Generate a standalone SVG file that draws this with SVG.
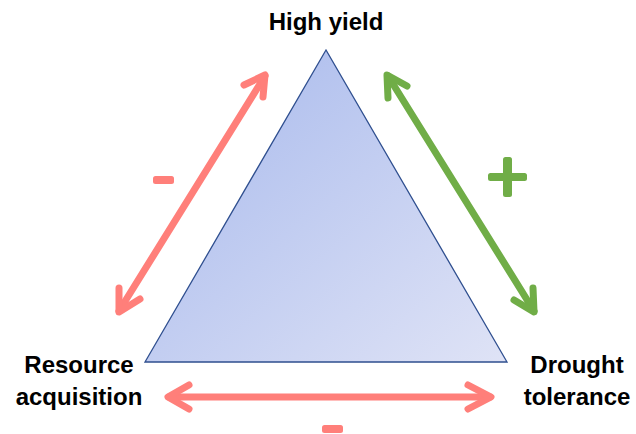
<svg xmlns="http://www.w3.org/2000/svg" width="636" height="434" viewBox="0 0 636 434">
<defs>
<linearGradient id="tri" x1="0" y1="0" x2="1" y2="1">
<stop offset="0" stop-color="#a6b8ec"/>
<stop offset="1" stop-color="#dfe3f6"/>
</linearGradient>
<style>
.lbl{font-family:"Liberation Sans",Arial,sans-serif;font-weight:bold;font-size:24px;fill:#000;text-anchor:middle}
.neg{stroke:#ff7f7a;stroke-width:7;fill:none;stroke-linecap:round;stroke-linejoin:round}
.pos{stroke:#70ad47;stroke-width:7;fill:none;stroke-linecap:round;stroke-linejoin:round}
</style>
</defs>
<g id="triangle">
<polygon points="326,50 145,362 507,362" fill="url(#tri)" stroke="#2f4f8f" stroke-width="1.3"/>
</g>
<g id="high-yield"><text class="lbl" x="326" y="30">High yield</text></g>
<g id="resource-acquisition"><text class="lbl" x="79" y="373">Resource</text><text class="lbl" x="79" y="405">acquisition</text></g>
<g id="drought-tolerance"><text class="lbl" x="577" y="373">Drought</text><text class="lbl" x="577" y="405">tolerance</text></g>
<g id="connectors">
<line class="neg" x1="119" y1="311" x2="265" y2="76"/>
<polyline class="neg" points="244,85 265,75 263,97"/>
<polyline class="neg" points="119,288 119,312 140,299"/>
<line class="pos" x1="388" y1="76" x2="534" y2="311"/>
<polyline class="pos" points="388,98 387,75 407,86"/>
<polyline class="pos" points="533,288 534,312 514,300"/>
<line class="neg" x1="169" y1="397" x2="490" y2="397"/>
<polyline class="neg" points="189,385 168,397 189,409"/>
<polyline class="neg" points="468,385 491,397 468,409"/>
</g>
<g id="signs">
<rect x="153" y="176" width="21" height="8" rx="2.5" fill="#ff7f7a"/>
<rect x="322" y="425" width="21" height="8" rx="2.5" fill="#ff7f7a"/>
<rect x="488" y="173" width="39" height="8" rx="2.5" fill="#70ad47"/>
<rect x="503" y="157" width="9" height="40" rx="2.5" fill="#70ad47"/>
</g>
</svg>
